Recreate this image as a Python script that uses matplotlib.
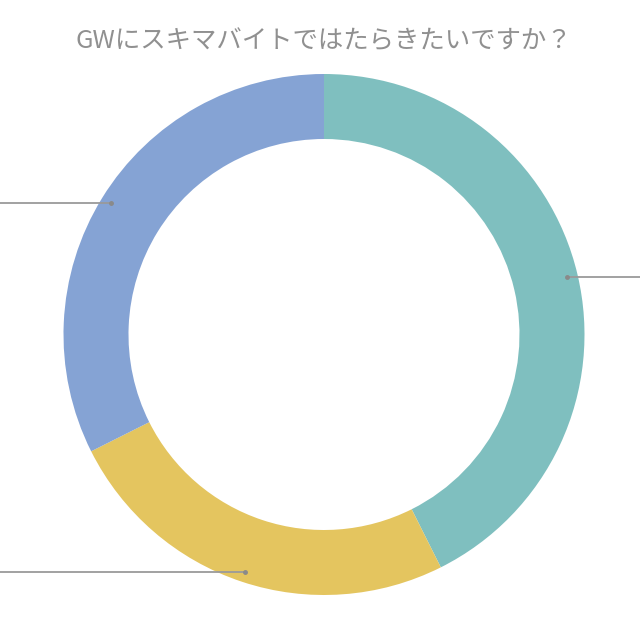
import numpy as np
import matplotlib
matplotlib.use("Agg")
import matplotlib.pyplot as plt

plt.rcParams['font.family'] = ['Noto Sans CJK JP', 'DejaVu Sans']

# share of answers, clockwise from 12 o'clock
categories = ["teal", "yellow", "blue"]
shares = [42.6, 25.0, 32.4]
colors = ["#7fbfbf", "#e4c55f", "#85a3d4"]
title = "GWにスキマバイトではたらきたいですか？"

fig = plt.figure(figsize=(6.4, 6.4), dpi=100)
ax = fig.add_axes([0, 0, 1, 1])

cx, cy = 324, 305.5
R = 260.5
ring = 65

wedges, _ = ax.pie(shares, colors=colors, startangle=90, counterclock=False,
                   radius=R, center=(cx, cy),
                   wedgeprops=dict(width=ring, edgecolor="none"))

# leader lines running off the canvas (labels are cropped in the reference)
for w in wedges:
    mid = np.deg2rad((w.theta1 + w.theta2) / 2)
    px = cx + 0.96 * R * np.cos(mid)
    py = cy + 0.96 * R * np.sin(mid)
    x_end = 650 if np.cos(mid) > 0 else -10
    ax.plot([px, x_end], [py, py], color="#9a9a9a", lw=1.3, clip_on=False)
    ax.plot(px, py, "o", ms=2.5, color="#8a8a8a")

ax.text(cx, 640 - 41, title, ha="center", va="center",
        fontsize=18.3, color="#909090")

ax.set_xlim(0, 640)
ax.set_ylim(0, 640)
ax.set_aspect("equal")
ax.axis("off")

fig.savefig("out.png", dpi=100, facecolor="white")
